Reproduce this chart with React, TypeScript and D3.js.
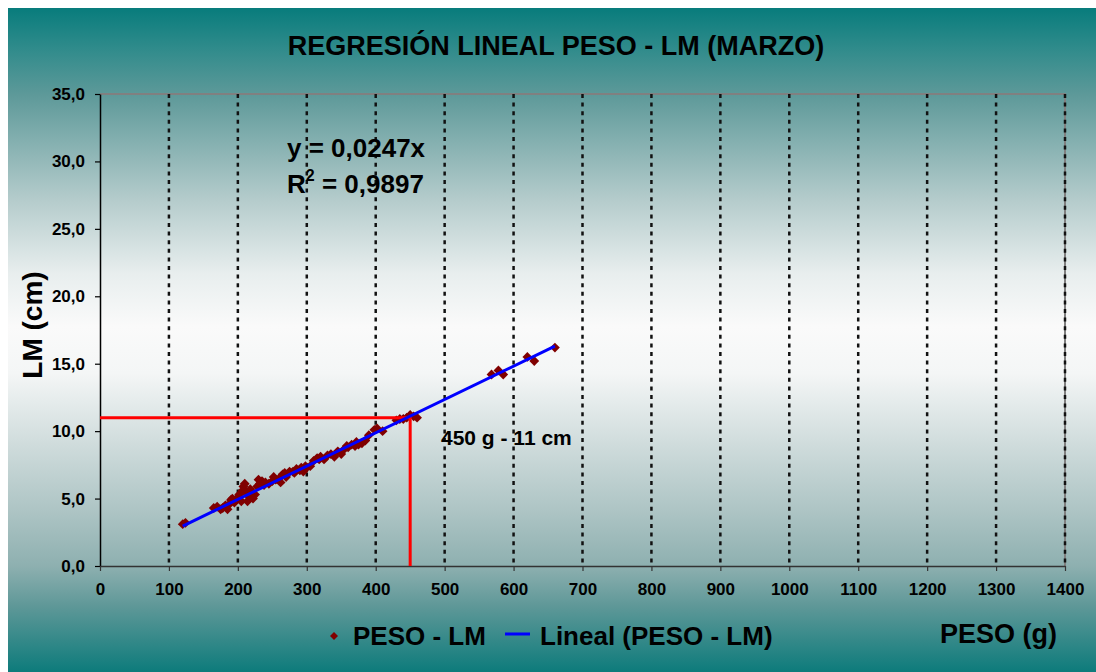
import React, { useEffect, useRef } from 'react';
import * as d3 from 'd3';

// PESO (g) and LM (cm)
const peso = [
  120, 124, 165, 170, 175, 178, 182, 185, 188, 190, 192, 195, 198, 200, 202, 205,
  207, 208, 210, 212, 214, 215, 218, 220, 222, 225, 228, 230, 232, 235, 238, 240,
  245, 250, 252, 255, 260, 262, 265, 268, 270, 275, 280, 282, 285, 290, 292, 295,
  298, 300, 305, 310, 315, 318, 320, 325, 330, 335, 340, 345, 350, 355, 358, 360,
  365, 370, 372, 375, 380, 385, 390, 398, 402, 410, 430, 435, 440, 445, 450, 455,
  460, 568, 578, 585, 620, 630, 660,
];
const lm = [
  3.1, 3.2, 4.3, 4.4, 4.2, 4.3, 4.5, 4.2, 4.6, 4.9, 5.0, 4.7, 4.9, 5.1, 5.3, 4.8,
  5.6, 5.9, 6.1, 5.5, 4.8, 5.2, 5.7, 5.4, 5.0, 5.3, 5.9, 6.4, 6.1, 6.3, 6.0, 6.2,
  6.1, 6.3, 6.6, 6.4, 6.5, 6.2, 6.8, 6.9, 6.6, 7.0, 7.0, 6.9, 7.2, 7.1, 7.3, 7.0,
  7.4, 7.3, 7.4, 7.8, 8.0, 7.9, 8.1, 7.9, 8.2, 8.3, 8.1, 8.5, 8.3, 8.7, 8.9, 8.8,
  9.0, 8.9, 9.2, 9.0, 9.1, 9.3, 9.7, 10.1, 10.2, 10.0, 10.8, 10.9, 10.9, 11.0, 11.2, 11.1,
  11.0, 14.2, 14.5, 14.2, 15.5, 15.2, 16.2,
];
const xTicks = [0, 100, 200, 300, 400, 500, 600, 700, 800, 900, 1000, 1100, 1200, 1300, 1400];
const yTicks = [0, 5, 10, 15, 20, 25, 30, 35];
const slope = 0.0247;
const r2 = '0,9897';
const marker = { peso: 450, lm: 11 };

// teal -> white -> teal background
const bgStops: [number, string][] = [
  [0, '#087c7c'], [0.06, '#2f8b8b'], [0.13, '#5d9999'], [0.29, '#b5cccc'],
  [0.4, '#e8eeee'], [0.48, '#fafafa'], [0.55, '#f4f6f6'], [0.64, '#d5e0e0'],
  [0.75, '#b0c6c6'], [0.84, '#8eb0b0'], [0.9, '#5f9898'], [1, '#0d7b7b'],
];

const FONT = '"Liberation Sans", Arial, sans-serif';

const App: React.FC = () => {
  const svgRef = useRef<SVGSVGElement>(null);

  useEffect(() => {
    if (!svgRef.current) return;
    const svg = d3.select(svgRef.current);
    svg.selectAll('*').remove();

    const x = d3.scaleLinear().domain([0, 1400]).range([100, 1065]);
    const y = d3.scaleLinear().domain([0, 35]).range([566, 94]);

    const defs = svg.append('defs');
    const grad = defs.append('linearGradient')
      .attr('id', 'bg').attr('x1', 0).attr('y1', 0).attr('x2', 0).attr('y2', 1);
    grad.selectAll('stop')
      .data(bgStops)
      .join('stop')
      .attr('offset', d => d[0])
      .attr('stop-color', d => d[1]);

    svg.append('rect')
      .attr('x', 8).attr('y', 8).attr('width', 1088).attr('height', 664)
      .attr('fill', 'url(#bg)');

    // plot border (top, right)
    svg.append('path')
      .attr('d', `M${x(0)},${y(35)}H${x(1400)}V${y(0)}`)
      .attr('fill', 'none').attr('stroke', '#808080').attr('stroke-width', 2);

    // vertical dotted grid
    svg.append('g').selectAll('line')
      .data(xTicks.filter(d => d > 0))
      .join('line')
      .attr('x1', d => x(d)).attr('x2', d => x(d))
      .attr('y1', y(35)).attr('y2', y(0))
      .attr('stroke', '#111').attr('stroke-width', 2.5)
      .attr('stroke-dasharray', '4,4.6');

    // axes
    const yAxis = svg.append('g')
      .attr('transform', `translate(${x(0)},0)`)
      .call(d3.axisLeft(y).tickValues(yTicks).tickSize(5).tickSizeOuter(0)
        .tickFormat(d => (d as number).toFixed(1).replace('.', ',')));
    yAxis.select('.domain').attr('stroke', '#000').attr('stroke-width', 1.5);
    yAxis.selectAll('.tick line').attr('stroke', '#000').attr('stroke-width', 1.2);
    yAxis.selectAll('text')
      .attr('x', -15)
      .style('font-family', FONT).style('font-weight', 'bold')
      .style('font-size', '17px').style('fill', '#000');

    const xAxis = svg.append('g')
      .attr('transform', `translate(0,${y(0)})`)
      .call(d3.axisBottom(x).tickValues(xTicks).tickSize(5).tickSizeOuter(0)
        .tickFormat(d3.format('d')));
    xAxis.select('.domain').attr('stroke', '#333').attr('stroke-width', 1.5);
    xAxis.selectAll('.tick line').attr('stroke', '#333').attr('stroke-width', 1.2);
    xAxis.selectAll('text')
      .attr('y', 17)
      .style('font-family', FONT).style('font-weight', 'bold')
      .style('font-size', '17px').style('fill', '#000');

    // points
    const pts = peso.map((p, i) => ({ p, l: lm[i] }));
    const sym = d3.symbol().type(d3.symbolSquare).size(48);
    svg.append('g').selectAll('path')
      .data(pts)
      .join('path')
      .attr('d', sym)
      .attr('transform', d => `translate(${x(d.p)},${y(d.l)}) rotate(45)`)
      .attr('fill', '#800000');

    // red reference lines
    svg.append('path')
      .attr('d', `M${x(0)},${y(marker.lm)}H${x(marker.peso)}V${y(0)}`)
      .attr('fill', 'none').attr('stroke', '#ff0000').attr('stroke-width', 3);

    // trend line
    const [x0, x1] = d3.extent(peso) as [number, number];
    svg.append('line')
      .attr('x1', x(x0)).attr('y1', y(slope * x0))
      .attr('x2', x(x1)).attr('y2', y(slope * x1))
      .attr('stroke', '#0000ff').attr('stroke-width', 3);

    const txt = (tx: number, ty: number, s: string, size: number, anchor = 'start') =>
      svg.append('text')
        .attr('x', tx).attr('y', ty).attr('text-anchor', anchor)
        .style('font-family', FONT).style('font-weight', 'bold')
        .style('font-size', `${size}px`).style('fill', '#000')
        .text(s);

    txt(556, 55, 'REGRESIÓN LINEAL PESO - LM (MARZO)', 27, 'middle');
    txt(287, 157, `y = ${String(slope).replace('.', ',')}x`, 26);

    const r = svg.append('text')
      .attr('x', 287).attr('y', 193)
      .style('font-family', FONT).style('font-weight', 'bold')
      .style('font-size', '26px').style('fill', '#000');
    r.append('tspan').text('R');
    r.append('tspan').attr('dy', -12).style('font-size', '16px').text('2');
    r.append('tspan').attr('dy', 12).text(` = ${r2}`);

    txt(441, 445, `${marker.peso} g - ${marker.lm} cm`, 21);

    // y title
    svg.append('text')
      .attr('transform', 'translate(42,325) rotate(-90)')
      .attr('text-anchor', 'middle')
      .style('font-family', FONT).style('font-weight', 'bold')
      .style('font-size', '28px').style('fill', '#000')
      .text('LM (cm)');

    txt(940, 643, 'PESO (g)', 27);

    // legend
    svg.append('path')
      .attr('d', d3.symbol().type(d3.symbolSquare).size(32))
      .attr('transform', 'translate(334,636) rotate(45)')
      .attr('fill', '#800000');
    txt(353, 645, 'PESO - LM', 26);
    svg.append('line')
      .attr('x1', 505).attr('x2', 530).attr('y1', 634).attr('y2', 634)
      .attr('stroke', '#0000ff').attr('stroke-width', 3);
    txt(540, 645, 'Lineal (PESO - LM)', 26);
  }, []);

  return (
    <svg
      ref={svgRef}
      width={1096}
      height={672}
      style={{ position: 'absolute', left: 0, top: 0 }}
    />
  );
};

export default App;
